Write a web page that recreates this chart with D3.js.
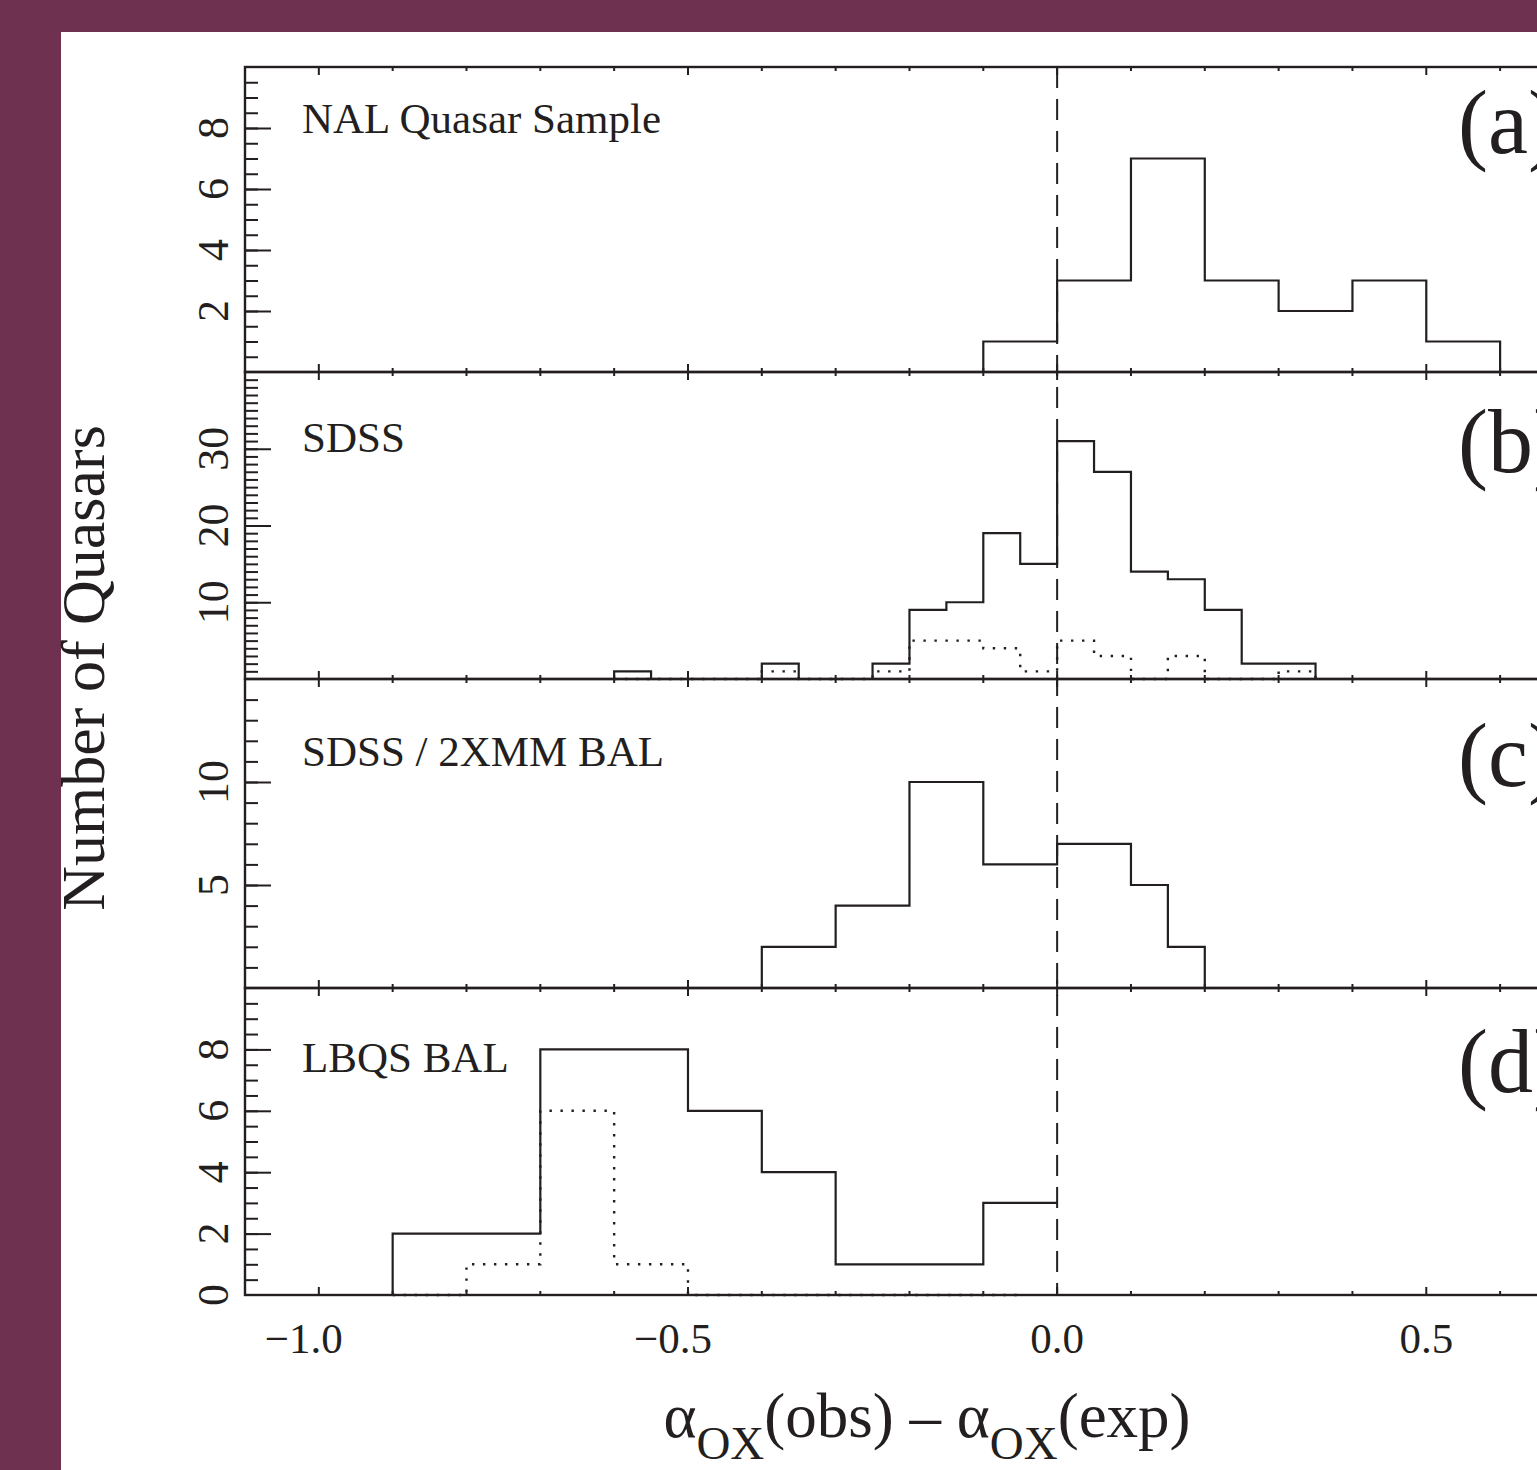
<!DOCTYPE html>
<html>
<head>
<meta charset="utf-8">
<script src="https://cdn.jsdelivr.net/npm/d3@7"></script>
<style>
  html, body { margin: 0; padding: 0; background: #6f3150; }
  svg { display: block; }
  text { font-family: "Liberation Serif", "Times New Roman", serif; fill: #231f20; }
</style>
</head>
<body>
<svg id="chart" width="1537" height="1470"></svg>
<script>
/* ---------- data (bin edges + counts) ---------- */
const NAL_EDGES   = [-0.1, 0.0, 0.1, 0.2, 0.3, 0.4, 0.5, 0.6];
const NAL_COUNTS  = [1, 3, 7, 3, 2, 3, 1];

const SDSS_EDGES  = [-0.6, -0.55, -0.5, -0.45, -0.4, -0.35, -0.3, -0.25, -0.2, -0.15,
                     -0.1, -0.05, 0.0, 0.05, 0.1, 0.15, 0.2, 0.25, 0.3, 0.35];
const SDSS_ALL    = [1, 0, 0, 0, 2, 0, 0, 2, 9, 10, 19, 15, 31, 27, 14, 13, 9, 2, 2];
const SDSS_SUB    = [0, 0, 0, 0, 1, 0, 0, 1, 5, 5, 4, 1, 5, 3, 0, 3, 0, 0, 1];

const XMM_EDGES   = [-0.4, -0.3, -0.2, -0.1, 0.0, 0.1, 0.15, 0.2];
const XMM_COUNTS  = [2, 4, 10, 6, 7, 5, 2];

const LBQS_EDGES  = [-0.95, -0.9, -0.8, -0.7, -0.6, -0.5, -0.4, -0.3, -0.2, -0.1, 0.0];
const LBQS_ALL    = [0, 2, 2, 8, 8, 6, 4, 1, 1, 3];
const LBQS_SUB_EDGES = [-0.9, -0.8, -0.7, -0.6, -0.5, -0.4, -0.3, -0.2, -0.1, -0.05];
const LBQS_SUB    = [0, 1, 6, 1, 0, 0, 0, 0, 0];

const X_LABELS    = [-1.0, -0.5, 0.0, 0.5];

/* ---------- panels ---------- */
const PANELS = [
  { name: 'NAL Quasar Sample', tag: '(a)', top: 67,  bottom: 372,  ymax: 10, major: [2, 4, 6, 8],    minorStep: 0.5, tagY: 153,
    solid: [NAL_EDGES, NAL_COUNTS, true] },
  { name: 'SDSS',              tag: '(b)', top: 372, bottom: 679,  ymax: 40, major: [10, 20, 30],    minorStep: 1,   tagY: 472,
    solid: [SDSS_EDGES, SDSS_ALL, true], dotted: [SDSS_EDGES, SDSS_SUB, true] },
  { name: 'SDSS / 2XMM BAL',   tag: '(c)', top: 679, bottom: 988,  ymax: 15, major: [5, 10],         minorStep: 1,   tagY: 786,
    solid: [XMM_EDGES, XMM_COUNTS, true] },
  { name: 'LBQS BAL',          tag: '(d)', top: 988, bottom: 1295, ymax: 10, major: [0, 2, 4, 6, 8], minorStep: 0.5, tagY: 1092,
    solid: [LBQS_EDGES, LBQS_ALL, false], dotted: [LBQS_SUB_EDGES, LBQS_SUB, false] },
];

const INK = '#231f20';
const svg = d3.select('#chart');

// white page area inside the maroon frame
svg.append('rect').attr('x', 61).attr('y', 32).attr('width', 1537 - 61).attr('height', 1470 - 32).attr('fill', '#fff');

const x = d3.scaleLinear().domain([-1.1, 0.7]).range([245, 245 + 1.8 * 738.3]);
const xMinor = d3.range(-11, 8).map(i => +(i / 10).toFixed(2));

function stepPath(y, edges, counts, closeEnd) {
  const pts = [[edges[0], 0]];
  counts.forEach((c, i) => { pts.push([edges[i], c]); pts.push([edges[i + 1], c]); });
  if (closeEnd) pts.push([edges[edges.length - 1], 0]);
  return d3.line().x(d => x(d[0])).y(d => y(d[1]))(pts);
}

PANELS.forEach(p => {
  const y = d3.scaleLinear().domain([0, p.ymax]).range([p.bottom, p.top]);
  const g = svg.append('g');

  // histograms
  if (p.dotted) {
    g.append('path').attr('d', stepPath(y, ...p.dotted))
      .attr('fill', 'none').attr('stroke', INK).attr('stroke-width', 2.4)
      .attr('stroke-dasharray', '2.4,8.6');
  }
  g.append('path').attr('d', stepPath(y, ...p.solid))
    .attr('fill', 'none').attr('stroke', INK).attr('stroke-width', 2.2);

  // x ticks (inward, top and bottom)
  const isMajor = v => X_LABELS.some(m => Math.abs(m - v) < 1e-6);
  xMinor.forEach(v => {
    const len = isMajor(v) ? 8 : 4;
    g.append('line').attr('x1', x(v)).attr('x2', x(v)).attr('y1', p.bottom).attr('y2', p.bottom - len)
      .attr('stroke', INK).attr('stroke-width', 2);
    g.append('line').attr('x1', x(v)).attr('x2', x(v)).attr('y1', p.top).attr('y2', p.top + len)
      .attr('stroke', INK).attr('stroke-width', 2);
  });

  // y ticks
  const yAxisMinor = d3.axisRight(y)
    .tickValues(d3.range(0, p.ymax + 1e-9, p.minorStep).filter(v => v > 0 && v < p.ymax))
    .tickSize(13).tickFormat('');
  g.append('g').attr('transform', `translate(${x(-1.1)},0)`).call(yAxisMinor)
    .call(s => s.select('.domain').remove())
    .selectAll('line').attr('stroke', INK).attr('stroke-width', 2);
  const yAxisMajor = d3.axisRight(y).tickValues(p.major.filter(v => v > 0)).tickSize(26).tickFormat('');
  g.append('g').attr('transform', `translate(${x(-1.1)},0)`).call(yAxisMajor)
    .call(s => s.select('.domain').remove())
    .selectAll('line').attr('stroke', INK).attr('stroke-width', 2);

  // y tick labels, rotated
  p.major.forEach(v => {
    g.append('text').attr('transform', `translate(228,${y(v)}) rotate(-90)`)
      .attr('text-anchor', 'middle').attr('font-size', 44).text(v);
  });

  // frame
  g.append('rect').attr('x', x(-1.1)).attr('y', p.top)
    .attr('width', x(0.7) - x(-1.1)).attr('height', p.bottom - p.top)
    .attr('fill', 'none').attr('stroke', INK).attr('stroke-width', 2.4);

  // panel labels
  g.append('text').attr('x', 302).attr('y', p.tagY - 20)
    .attr('font-size', 43).text(p.name);
  g.append('text').attr('x', 1458).attr('y', p.tagY).attr('font-size', 90).text(p.tag);
});

// dashed zero line across all panels
svg.append('line').attr('x1', x(0)).attr('x2', x(0))
  .attr('y1', PANELS[0].top).attr('y2', PANELS[3].bottom)
  .attr('stroke', INK).attr('stroke-width', 2).attr('stroke-dasharray', '21,11');

// x tick labels
X_LABELS.forEach(v => {
  svg.append('text').attr('x', x(v) + (v < 0 ? -15 : 0)).attr('y', 1353)
    .attr('text-anchor', 'middle').attr('font-size', 43)
    .text(v < 0 ? '\u2212' + Math.abs(v).toFixed(1) : v.toFixed(1));
});

// axis titles
svg.append('text').attr('transform', 'translate(104,668) rotate(-90)')
  .attr('text-anchor', 'middle').attr('font-size', 62).text('Number of Quasars');

const xt = svg.append('text').attr('x', 927).attr('y', 1437).attr('text-anchor', 'middle').attr('font-size', 63);
xt.append('tspan').text('\u03b1');
xt.append('tspan').attr('dy', 22).attr('font-size', 47).text('OX');
xt.append('tspan').attr('dy', -22).text('(obs) \u2013 \u03b1');
xt.append('tspan').attr('dy', 22).attr('font-size', 47).text('OX');
xt.append('tspan').attr('dy', -22).text('(exp)');
</script>
</body>
</html>
